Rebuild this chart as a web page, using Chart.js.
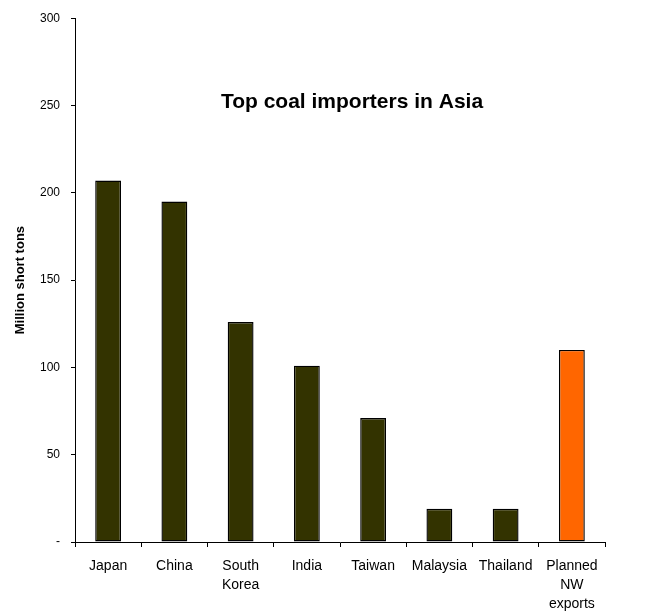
<!DOCTYPE html>
<html>
<head>
<meta charset="utf-8">
<script src="https://cdn.jsdelivr.net/npm/chart.js@4"></script>
<style>
  html, body { margin: 0; padding: 0; background: #fff; }
  #wrap { width: 648px; height: 616px; position: relative; }
</style>
</head>
<body>
<div id="wrap"><canvas id="coal"></canvas></div>
<script>
// data
const categories = ['Japan', 'China', ['South', 'Korea'], 'India', 'Taiwan', 'Malaysia', 'Thailand', ['Planned', 'NW', 'exports']];
const imports = [207, 195, 126, 101, 71, 19, 19, 110];
const barColors = ['#333300', '#333300', '#333300', '#333300', '#333300', '#333300', '#333300', '#FF6600'];
const yTicks = [0, 50, 100, 150, 200, 250, 300];

// title sits inside the plot, so draw it ourselves
const insideTitle = {
    id: 'insideTitle',
    afterDraw(chart) {
        let ctx = chart.ctx;
        ctx.save();
        ctx.font = 'bold 21px "Liberation Sans", Arial, sans-serif';
        ctx.fillStyle = '#000';
        ctx.textAlign = 'center';
        ctx.textBaseline = 'middle';
        ctx.fillText('Top coal importers in Asia', 352, 102);
        ctx.restore();
    }
};

new Chart(document.getElementById('coal'), {
    type: 'bar',
    data: {
        labels: categories,
        datasets: [{
            data: imports,
            backgroundColor: barColors,
            borderColor: '#000',
            borderWidth: 1.4,
            borderSkipped: false,
            barPercentage: 0.39,
            categoryPercentage: 1
        }]
    },
    options: {
        responsive: true,
        maintainAspectRatio: false,
        animation: false,
        layout: {padding: {top: 18, right: 43, left: 0, bottom: 0}},
        plugins: {legend: {display: false}, tooltip: {enabled: false}},
        scales: {
            x: {
                grid: {drawOnChartArea: false, drawTicks: true, tickLength: 5, color: '#000', offset: true},
                border: {color: '#000', width: 1},
                ticks: {
                    color: '#000', padding: 10, maxRotation: 0, autoSkip: false,
                    font: {family: '"Liberation Sans", Arial, sans-serif', size: 14, lineHeight: 1.36}
                },
                afterFit: function (scale) { scale.height = 74 }
            },
            y: {
                min: 0, max: 300,
                afterBuildTicks: function (scale) {
                    scale.ticks = yTicks.map(function (v) { return {value: v} })
                },
                grid: {drawOnChartArea: false, drawTicks: true, tickLength: 4, color: '#000'},
                border: {color: '#000', width: 1},
                ticks: {
                    color: '#000', padding: 11,
                    font: {family: '"Liberation Sans", Arial, sans-serif', size: 12},
                    callback: function (v) { return v === 0 ? '-' : v }
                },
                title: {
                    display: true, text: 'Million short tons', color: '#000',
                    font: {family: '"Liberation Sans", Arial, sans-serif', size: 13, weight: 'bold'},
                    padding: {top: 13, bottom: 0}
                },
                afterFit: function (scale) { scale.width = 75 }
            }
        }
    },
    plugins: [insideTitle]
});
</script>
</body>
</html>
